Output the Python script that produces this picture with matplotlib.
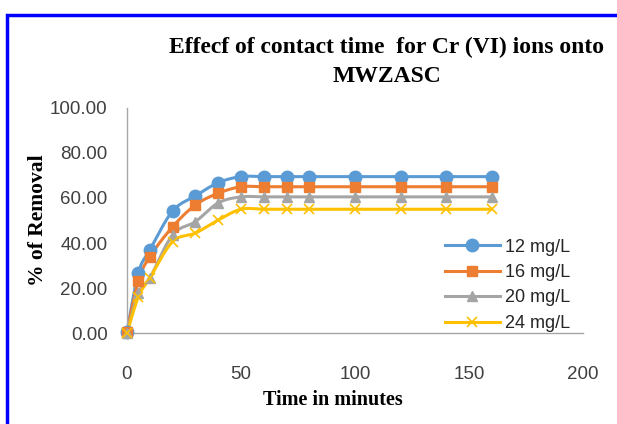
import numpy as np
import matplotlib
matplotlib.use("Agg")
import matplotlib.pyplot as plt
from matplotlib.patches import Rectangle

# donnees
temps = [0, 5, 10, 20, 30, 40, 50, 60, 70, 80, 100, 120, 140, 160]
c12 = [0.5, 26.7, 36.9, 54.2, 60.9, 66.8, 69.5, 69.5, 69.5, 69.5, 69.5, 69.5, 69.5, 69.5]
c16 = [0.5, 23.2, 33.9, 47.2, 56.9, 62.1, 65.0, 65.0, 65.0, 65.0, 65.0, 65.0, 65.0, 65.0]
c20 = [0.0, 17.8, 24.4, 43.6, 49.5, 57.8, 60.5, 60.5, 60.5, 60.5, 60.5, 60.5, 60.5, 60.5]
c24 = [0.0, 16.1, 24.4, 40.6, 44.4, 50.2, 55.0, 55.0, 55.0, 55.0, 55.0, 55.0, 55.0, 55.0]
labels = ["12 mg/L", "16 mg/L", "20 mg/L", "24 mg/L"]
x_ticks = [0, 50, 100, 150, 200]
y_ticks = [0, 20, 40, 60, 80, 100]


def lisse(x, y, n=20):
    # courbe lissee type Catmull-Rom (comme Excel "smooth line")
    x = np.asarray(x, float)
    y = np.asarray(y, float)
    px = np.concatenate([[x[0]], x, [x[-1]]])
    py = np.concatenate([[y[0]], y, [y[-1]]])
    xs, ys = [], []
    t = np.linspace(0, 1, n)
    for i in range(1, len(px) - 2):
        for p, out in ((px, xs), (py, ys)):
            p0, p1, p2, p3 = p[i - 1], p[i], p[i + 1], p[i + 2]
            out.extend(0.5 * ((2 * p1) + (-p0 + p2) * t
                              + (2 * p0 - 5 * p1 + 4 * p2 - p3) * t ** 2
                              + (-p0 + 3 * p1 - 3 * p2 + p3) * t ** 3))
    return xs, ys


fig = plt.figure(figsize=(6.17, 4.24), dpi=100)
ax = fig.add_axes([0.2058, 0.2146, 0.7391, 0.5307])

couleurs = ["#5B9BD5", "#ED7D31", "#A5A5A5", "#FFC000"]
marqueurs = [("o", 9, 1), ("s", 6.5, 1), ("^", 7.5, 1), ("x", 7.5, 1.2)]
for serie, lab, col, (m, ms, mew) in zip([c12, c16, c20, c24], labels, couleurs, marqueurs):
    xs, ys = lisse(temps, serie)
    ax.plot(xs, ys, color=col, lw=2.2, clip_on=False, zorder=2)
    ax.plot(temps, serie, ls="none", marker=m, ms=ms, color=col, mew=mew,
            clip_on=False, zorder=3)
    ax.plot([], [], color=col, lw=2.2, marker=m, ms=ms, mew=mew, label=lab)

ax.set_xlim(0, 200)
ax.set_ylim(0, 100)
ax.set_xticks(x_ticks)
ax.set_yticks(y_ticks)
ax.set_yticklabels([f"{v:.2f}" for v in y_ticks])
ax.tick_params(length=0, labelsize=13.5, labelcolor="#404040")
ax.tick_params(axis="x", pad=24)
ax.tick_params(axis="y", pad=14)
for lab in ax.get_xticklabels() + ax.get_yticklabels():
    lab.set_family("Liberation Sans")
for s in ["top", "right"]:
    ax.spines[s].set_visible(False)
for s in ["left", "bottom"]:
    ax.spines[s].set_color("#A6A6A6")
    ax.spines[s].set_linewidth(1)

fig.text(0.540, 1 - 405 / 424, "Time in minutes", family="Liberation Serif",
         fontweight="bold", fontsize=14.5, ha="center", va="baseline")
fig.text(0.062, 0.481, "% of Removal", family="Liberation Serif", fontweight="bold",
         fontsize=15.5, rotation=90, ha="center", va="center")
fig.text(0.627, 1 - 53 / 424, "Effecf of contact time  for Cr (VI) ions onto",
         family="Liberation Serif", fontweight="bold", fontsize=17,
         ha="center", va="baseline")
fig.text(0.627, 1 - 82 / 424, "MWZASC",
         family="Liberation Serif", fontweight="bold", fontsize=17,
         ha="center", va="baseline")

leg = ax.legend(loc="upper left", bbox_to_anchor=(0.697, 0.42), frameon=False,
                prop={"family": "Liberation Sans", "size": 13}, handlelength=3.05,
                handletextpad=0.3, labelspacing=0.47, borderaxespad=0, borderpad=0)
for t in leg.get_texts():
    t.set_color("#262626")

# cadre bleu
fig.patches.append(Rectangle((7 / 617, -0.1), 1.2, 1 - 15 / 424 + 0.1,
                             transform=fig.transFigure, fill=False,
                             edgecolor="#0000FF", lw=2.5))

fig.savefig("out.png", dpi=100)
